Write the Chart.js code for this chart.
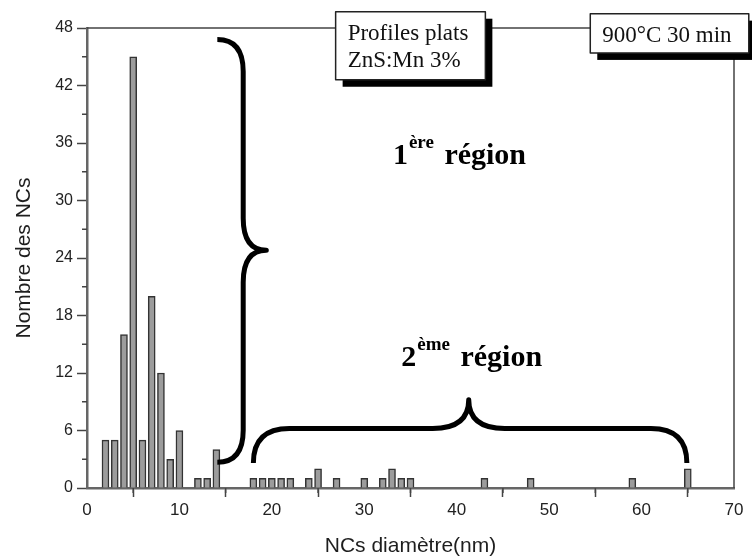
<!DOCTYPE html>
<html>
<head>
<meta charset="utf-8">
<script src="https://cdn.jsdelivr.net/npm/chart.js@4.4.1/dist/chart.umd.min.js"></script>
<style>
  html, body { margin: 0; padding: 0; background: #fff; }
  #wrap { width: 752px; height: 559px; }
</style>
</head>
<body>
<div id="wrap"><canvas id="histo" width="752" height="559"></canvas></div>
<script>
// histogramme des diametres (nm) -> nombre de NCs
const diametres = [2, 3, 4, 5, 6, 7, 8, 9, 10, 12, 13, 14, 18, 19, 20, 21, 22, 24, 25, 27, 30, 32, 33, 34, 35, 43, 48, 59, 65];
const nombres = [5, 5, 16, 45, 5, 20, 12, 3, 6, 1, 1, 4, 1, 1, 1, 1, 1, 1, 2, 1, 1, 1, 2, 1, 1, 1, 1, 1, 2];

const xTicks = [0, 10, 20, 30, 40, 50, 60, 70];
const xMinor = [5, 15, 25, 35, 45, 55, 65];
const yTicks = [0, 6, 12, 18, 24, 30, 36, 42, 48];
const yMinor = [3, 9, 15, 21, 27, 33, 39, 45];

const TEXT = '#1e1e1e';
const AXIS = '#666';

// annotations, en unites des axes
const accolade1 = { bout: 14.1, dos: 16.9, pointe: 19.4, haut: 46.8, milieu: 24.8, bas: 2.7 };
const accolade2 = { bout: 2.6, dos: 6.2, pointe: 9.2, gauche: 18.0, milieu: 41.3, droite: 64.9 };
const region1 = { x: 33.1, y: 33.8, num: '1', sup: 'ère' };
const region2 = { x: 34.0, y: 12.7, num: '2', sup: 'ème' };
const boite1 = { x0: 26.9, x1: 43.1, y0: 49.7, y1: 42.6, lignes: ['Profiles plats', 'ZnS:Mn 3%'] };
const boite2 = { x0: 54.45, x1: 71.6, y0: 49.5, y1: 45.4, lignes: ['900°C 30 min'] };

function accoladeV(ctx, a, px, py) {
    const xe = px(a.bout), xs = px(a.dos), xt = px(a.pointe);
    const yt = py(a.haut), ym = py(a.milieu), yb = py(a.bas);
    const r = 32;
    ctx.beginPath();
    ctx.moveTo(xe, yt);
    ctx.quadraticCurveTo(xs, yt, xs, yt + r);
    ctx.lineTo(xs, ym - r);
    ctx.quadraticCurveTo(xs, ym, xt, ym);
    ctx.quadraticCurveTo(xs, ym, xs, ym + r);
    ctx.lineTo(xs, yb - r);
    ctx.quadraticCurveTo(xs, yb, xe, yb);
    ctx.stroke();
}

function accoladeH(ctx, a, px, py) {
    const ye = py(a.bout), ys = py(a.dos), yt = py(a.pointe);
    const xl = px(a.gauche), xm = px(a.milieu), xr = px(a.droite);
    const r = 36;
    ctx.beginPath();
    ctx.moveTo(xl, ye);
    ctx.quadraticCurveTo(xl, ys, xl + r, ys);
    ctx.lineTo(xm - r, ys);
    ctx.quadraticCurveTo(xm, ys, xm, yt);
    ctx.quadraticCurveTo(xm, ys, xm + r, ys);
    ctx.lineTo(xr - r, ys);
    ctx.quadraticCurveTo(xr, ys, xr, ye);
    ctx.stroke();
}

function etiquetteRegion(ctx, reg, px, py) {
    const x = px(reg.x), y = py(reg.y);
    ctx.fillStyle = '#000';
    ctx.textBaseline = 'alphabetic';
    ctx.textAlign = 'left';
    ctx.font = 'bold 30px "Liberation Serif"';
    ctx.fillText(reg.num, x, y);
    let w = ctx.measureText(reg.num).width + 1;
    ctx.font = 'bold 19px "Liberation Serif"';
    ctx.fillText(reg.sup, x + w, y - 16);
    w += ctx.measureText(reg.sup).width + 3;
    ctx.font = 'bold 30px "Liberation Serif"';
    ctx.fillText(' région', x + w, y);
}

function dessinBoite(ctx, b, px, py) {
    const x0 = px(b.x0), x1 = px(b.x1), y0 = py(b.y0), y1 = py(b.y1);
    ctx.fillStyle = '#000';
    ctx.fillRect(x0 + 7, y0 + 7, x1 - x0, y1 - y0);
    ctx.fillStyle = '#fff';
    ctx.fillRect(x0, y0, x1 - x0, y1 - y0);
    ctx.strokeStyle = '#222';
    ctx.lineWidth = 1.5;
    ctx.strokeRect(x0, y0, x1 - x0, y1 - y0);
    ctx.fillStyle = '#111';
    ctx.font = '23px "Liberation Serif"';
    ctx.textAlign = 'left';
    ctx.textBaseline = 'alphabetic';
    b.lignes.forEach((l, i) => ctx.fillText(l, x0 + 12, y0 + 28 + i * 27));
}

const decor = {
    id: 'decor',
    afterDatasetsDraw(chart) {
        const { ctx, chartArea: ca, scales: { x, y } } = chart;
        const px = (v) => x.getPixelForValue(v);
        const py = (v) => y.getPixelForValue(v);
        ctx.save();

        // cadre haut / droite
        ctx.strokeStyle = '#444';
        ctx.lineWidth = 1.5;
        ctx.beginPath();
        ctx.moveTo(ca.left, ca.top);
        ctx.lineTo(ca.right, ca.top);
        ctx.lineTo(ca.right, ca.bottom);
        ctx.stroke();

        // graduations secondaires
        ctx.beginPath();
        xMinor.forEach((v) => { ctx.moveTo(px(v), ca.bottom); ctx.lineTo(px(v), ca.bottom + 5); });
        yMinor.forEach((v) => { ctx.moveTo(ca.left, py(v)); ctx.lineTo(ca.left - 5, py(v)); });
        ctx.stroke();

        // accolades
        ctx.strokeStyle = '#000';
        ctx.lineWidth = 5;
        ctx.lineJoin = 'round';
        accoladeV(ctx, accolade1, px, py);
        accoladeH(ctx, accolade2, px, py);

        etiquetteRegion(ctx, region1, px, py);
        etiquetteRegion(ctx, region2, px, py);

        dessinBoite(ctx, boite1, px, py);
        dessinBoite(ctx, boite2, px, py);
        ctx.restore();
    },
};

new Chart(document.getElementById('histo'), {
    type: 'bar',
    data: {
        datasets: [{
            data: diametres.map((d, i) => ({ x: d, y: nombres[i] })),
            backgroundColor: '#9c9c9c',
            borderColor: '#333',
            borderWidth: 1.5,
            barThickness: 7,
        }],
    },
    options: {
        responsive: false,
        animation: false,
        devicePixelRatio: 1,
        layout: { padding: { left: 0, right: 18, top: 28, bottom: 0 } },
        plugins: { legend: { display: false }, tooltip: { enabled: false } },
        scales: {
            x: {
                type: 'linear',
                min: 0,
                max: 70,
                offset: false,
                afterBuildTicks: (axis) => { axis.ticks = xTicks.map((v) => ({ value: v })); },
                afterFit: (axis) => { axis.height = 71; },
                grid: { drawOnChartArea: false, drawTicks: true, tickLength: 9, tickColor: '#444', tickWidth: 1.5 },
                border: { display: true, color: AXIS, width: 2.5 },
                ticks: { color: '#222', font: { family: 'Liberation Sans', size: 17 }, padding: 3, maxRotation: 0 },
                title: {
                    display: true,
                    text: 'NCs diamètre(nm)',
                    color: TEXT,
                    font: { family: 'Liberation Sans', size: 21, lineHeight: 1 },
                    padding: { top: 0, bottom: 2 },
                },
            },
            y: {
                min: 0,
                max: 48,
                afterBuildTicks: (axis) => { axis.ticks = yTicks.map((v) => ({ value: v })); },
                afterFit: (axis) => { axis.width = 87; },
                grid: { drawOnChartArea: false, drawTicks: true, tickLength: 10, tickColor: '#444', tickWidth: 1.5 },
                border: { display: true, color: AXIS, width: 2.5 },
                ticks: { color: '#222', font: { family: 'Liberation Sans', size: 16 }, padding: 4 },
                title: {
                    display: true,
                    text: 'Nombre des NCs',
                    color: TEXT,
                    font: { family: 'Liberation Sans', size: 21, lineHeight: 1 },
                    padding: { top: 14, bottom: 0 },
                },
            },
        },
    },
    plugins: [decor],
});
</script>
</body>
</html>
